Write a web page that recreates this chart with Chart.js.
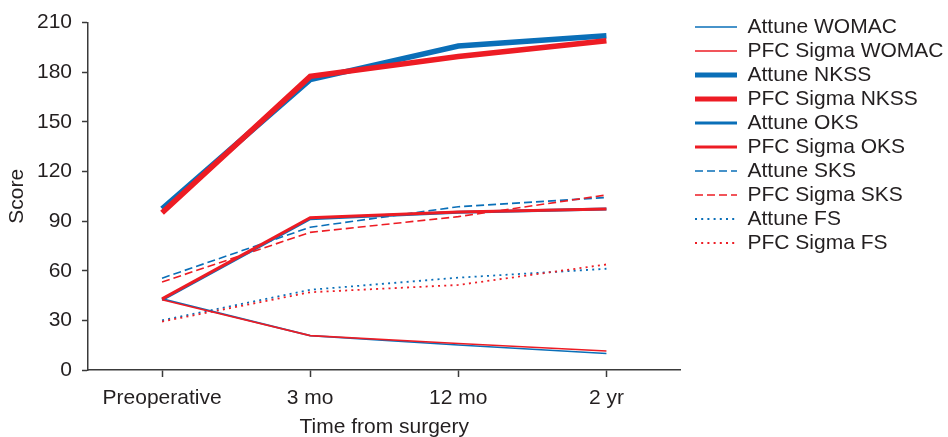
<!DOCTYPE html>
<html>
<head>
<meta charset="utf-8">
<script src="https://cdn.jsdelivr.net/npm/chart.js@4/dist/chart.umd.min.js"></script>
<style>
html,body{margin:0;padding:0;background:#fff;}
#wrap{width:948px;height:437px;}
</style>
</head>
<body>
<div id="wrap"><canvas id="c" width="948" height="437"></canvas></div>
<script>
const categories = ['Preoperative', '3 mo', '12 mo', '2 yr'];
const yTicks = [0, 30, 60, 90, 120, 150, 180, 210];

const attuneWOMAC = [43, 20.8, 15.1, 10.0];
const pfcWOMAC    = [42.5, 20.8, 16.0, 11.5];
const attuneNKSS  = [97.5, 175.5, 195.8, 202.0];
const pfcNKSS     = [95.0, 177.5, 189.5, 199.0];
const attuneOKS   = [42.5, 91.5, 95.3, 97.3];
const pfcOKS      = [43.0, 92.0, 95.5, 97.3];
const attuneSKS   = [55.5, 86.3, 98.7, 104.3];
const pfcSKS      = [53.2, 83.2, 92.7, 105.8];
const attuneFS    = [30.0, 48.5, 55.8, 61.2];
const pfcFS       = [29.3, 47.0, 51.4, 63.8];

const BLUE = '#0a6fb8';
const RED = '#ed1c24';
const TXT = '#231f20';
const AX = '#3a3a3a';
const FONT = "'Liberation Sans', Arial, Helvetica, sans-serif";

function ds(label, data, color, width, dash, order) {
  return {label, data, borderColor: color, backgroundColor: color, borderWidth: width,
    borderDash: dash, pointRadius: 0, pointHoverRadius: 0, tension: 0, fill: false,
    borderJoinStyle: 'miter', order};
}

const datasets = [
  ds('Attune WOMAC', attuneWOMAC, BLUE, 1.6, [], 1),
  ds('PFC Sigma WOMAC', pfcWOMAC, RED, 1.6, [], 0),
  ds('Attune NKSS', attuneNKSS, BLUE, 5.5, [], 1),
  ds('PFC Sigma NKSS', pfcNKSS, RED, 5.5, [], 0),
  ds('Attune OKS', attuneOKS, BLUE, 3, [], 1),
  ds('PFC Sigma OKS', pfcOKS, RED, 3, [], 0),
  ds('Attune SKS', attuneSKS, BLUE, 1.6, [8, 4], 1),
  ds('PFC Sigma SKS', pfcSKS, RED, 1.6, [8, 4], 0),
  ds('Attune FS', attuneFS, BLUE, 1.8, [2, 4.2], 1),
  ds('PFC Sigma FS', pfcFS, RED, 1.8, [2, 4.2], 0)
];

const legendShift = {
  id: 'legendShift',
  afterLayout(chart) {
    const lg = chart.legend;
    if (!lg) return;
    const w = lg.width, h = lg.height;
    lg.left = 692; lg.right = lg.left + w;
    lg.top = 13.5; lg.bottom = lg.top + h;
  }
};

new Chart(document.getElementById('c'), {
  type: 'line',
  data: { labels: categories, datasets },
  plugins: [legendShift],
  options: {
    responsive: false,
    devicePixelRatio: 1,
    animation: false,
    events: [],
    layout: { padding: { top: 15, right: 6, bottom: 0, left: 0 } },
    plugins: {
      tooltip: { enabled: false },
      legend: {
        position: 'right',
        align: 'start',
        maxWidth: 320,
        labels: {
          font: { family: FONT, size: 21 },
          color: TXT,
          padding: 3,
          usePointStyle: true,
          pointStyleWidth: 42,
          boxWidth: 42,
          generateLabels(chart) {
            return chart.data.datasets.map((d, i) => ({
              text: d.label,
              fillStyle: d.borderColor,
              strokeStyle: d.borderColor,
              lineWidth: Math.min(d.borderWidth, 5),
              lineDash: d.borderDash,
              lineCap: 'butt',
              pointStyle: 'line',
              hidden: false,
              datasetIndex: i,
              fontColor: TXT
            }));
          }
        }
      }
    },
    scales: {
      x: {
        type: 'category',
        offset: true,
        grid: { display: true, drawOnChartArea: false, drawTicks: true, tickLength: 7, tickColor: AX, tickWidth: 1.5, offset: false },
        border: { display: true, color: AX, width: 1.5 },
        ticks: { font: { family: FONT, size: 21 }, color: TXT, padding: 9, maxRotation: 0, autoSkip: false },
        title: { display: true, text: 'Time from surgery', font: { family: FONT, size: 21, lineHeight: 0.9 }, color: TXT, padding: { top: 0, bottom: 0 } },
        afterFit(scale) { scale.height = 67; }
      },
      y: {
        min: 0, max: 210,
        afterBuildTicks(scale) { scale.ticks = yTicks.map(v => ({ value: v })); },
        grid: { display: true, drawOnChartArea: false, drawTicks: true, tickLength: 6, tickColor: AX, tickWidth: 1.5 },
        border: { display: true, color: AX, width: 1.5 },
        ticks: { font: { family: FONT, size: 21 }, color: TXT, padding: 10 },
        title: { display: true, text: 'Score', font: { family: FONT, size: 21 }, color: TXT, padding: { top: 5, bottom: 0 } },
        afterFit(scale) { scale.width = 88; }
      }
    }
  }
});
</script>
</body>
</html>
